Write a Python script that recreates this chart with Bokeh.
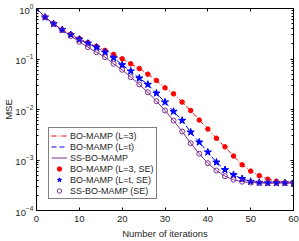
from bokeh.plotting import figure
from bokeh.models import (LinearAxis, LogAxis, FixedTicker, LogTicker, Legend, LegendItem,
                          CustomJSTickFormatter, Range1d)
from bokeh.embed import file_html
from bokeh.resources import INLINE

iters = list(range(0, 61, 2))
bo_l3 = [1.0, 0.673, 0.498, 0.380, 0.309, 0.254, 0.211, 0.178, 0.148, 0.123,
         0.101, 0.0802, 0.0646, 0.0501, 0.0375, 0.0269, 0.0204, 0.0140, 0.00955, 0.00617,
         0.00411, 0.00270, 0.00182, 0.00120, 0.000804, 0.000603, 0.000490, 0.000417, 0.000380, 0.000359,
         0.000351]
bo_lt = [1.0, 0.673, 0.498, 0.380, 0.302, 0.245, 0.204, 0.170, 0.136, 0.105,
         0.0765, 0.0575, 0.0417, 0.0313, 0.0210, 0.0140, 0.00912, 0.00605, 0.00355, 0.00225,
         0.00143, 0.000904, 0.000640, 0.000509, 0.000425, 0.000375, 0.000359, 0.000351, 0.000351, 0.000351,
         0.000351]
ss_bo = [1.0, 0.673, 0.498, 0.372, 0.285, 0.219, 0.172, 0.136, 0.109, 0.0802,
         0.0611, 0.0437, 0.0313, 0.0220, 0.0146, 0.00955, 0.00605, 0.00366, 0.00215, 0.00133,
         0.000865, 0.000619, 0.000479, 0.000407, 0.000372, 0.000359, 0.000351, 0.000351, 0.000351, 0.000351,
         0.000351]
x_ticks = [0, 10, 20, 30, 40, 50, 60]

FONT = "Liberation Sans"
RED, BLUE, PURPLE = "#ff0000", "#0000ff", "#7e2f8e"

p = figure(width=299, height=241, output_backend="svg", toolbar_location=None,
           y_axis_type="log", x_range=Range1d(0, 60), y_range=Range1d(1e-4, 1),
           min_border_left=33, min_border_right=6, min_border_top=8, min_border_bottom=31)
p.outline_line_color = "black"
p.grid.visible = False
p.background_fill_color = "white"
p.border_fill_color = "white"

def style(ax):
    ax.major_tick_in = 3
    ax.major_tick_out = 0
    ax.minor_tick_in = 2
    ax.minor_tick_out = 0
    ax.axis_line_color = "black"
    ax.major_label_text_font = FONT
    ax.major_label_text_font_size = "9.5px"
    ax.major_label_text_color = "#262626"
    ax.axis_label_text_font = FONT
    ax.axis_label_text_font_size = "9.5px"
    ax.axis_label_text_font_style = "normal"
    ax.axis_label_text_color = "#262626"
    ax.major_label_standoff = 2
    ax.axis_label_standoff = 2

xa = p.xaxis[0]
style(xa)
xa.ticker = FixedTicker(ticks=x_ticks)
xa.minor_tick_line_color = None
xa.axis_label = "Number of iterations"
xa.major_label_standoff = 5
xa.axis_label_standoff = 3

ya = p.yaxis[0]
style(ya)
ya.ticker = LogTicker(num_minor_ticks=10)
ya.axis_label = "MSE"
ya.major_label_standoff = 3
ya.axis_label_standoff = -2

empty = CustomJSTickFormatter(code="return ''")
top = LinearAxis(ticker=FixedTicker(ticks=x_ticks), formatter=empty)
style(top)
top.minor_tick_line_color = None
top.major_label_standoff = 0
top.major_label_text_font_size = "0px"
p.add_layout(top, "above")
right = LogAxis(ticker=LogTicker(num_minor_ticks=10), formatter=empty)
style(right)
right.major_label_standoff = 0
right.major_label_text_font_size = "0px"
p.add_layout(right, "right")

r1 = p.line(iters, bo_l3, line_color=RED, line_width=1, line_dash="5 2 1 2")
r2 = p.line(iters, bo_lt, line_color=BLUE, line_width=1, line_dash="5 3")
r3 = p.line(iters, ss_bo, line_color=PURPLE, line_width=1)
m1 = p.scatter(iters, bo_l3, marker="circle", size=4.5, fill_color=RED, line_color=RED)
m2 = p.scatter(iters, bo_lt, marker="star", size=7.5, fill_color=BLUE, line_color=BLUE)
m3 = p.scatter(iters, ss_bo, marker="circle", size=5, fill_color=None, line_color=PURPLE, line_width=1)

legend = Legend(items=[
    LegendItem(label="BO-MAMP (L=3)", renderers=[r1]),
    LegendItem(label="BO-MAMP (L=t)", renderers=[r2]),
    LegendItem(label="SS-BO-MAMP", renderers=[r3]),
    LegendItem(label="BO-MAMP (L=3, SE)", renderers=[m1]),
    LegendItem(label="BO-MAMP (L=t, SE)", renderers=[m2]),
    LegendItem(label="SS-BO-MAMP (SE)", renderers=[m3]),
], location=(12, 11))
legend.label_text_font = FONT
legend.label_text_font_size = "9px"
legend.label_text_color = "#262626"
legend.glyph_width = 16
legend.glyph_height = 11
legend.label_height = 11
legend.label_standoff = 3
legend.spacing = 0
legend.padding = 2
legend.margin = 0
legend.border_line_color = "black"
legend.border_line_width = 1
legend.background_fill_alpha = 1
p.add_layout(legend, "center")

open("out.html", "w").write(file_html(p, INLINE))
